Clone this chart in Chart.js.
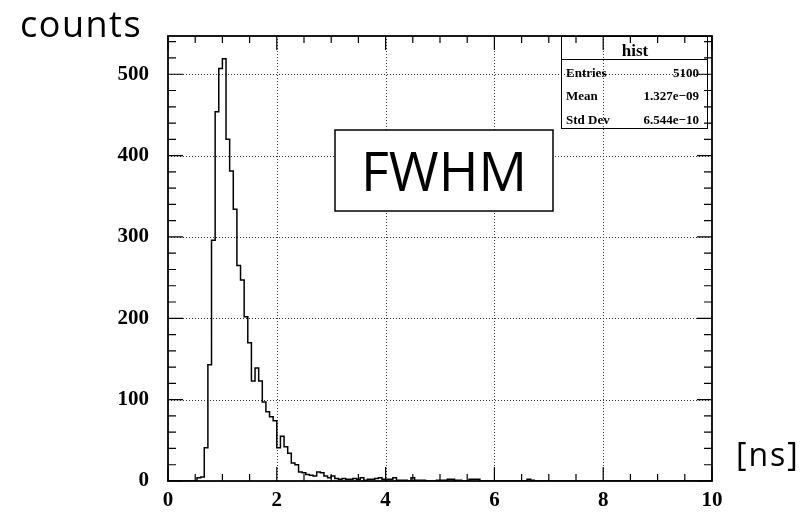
<!DOCTYPE html>
<html>
<head>
<meta charset="utf-8">
<script src="https://cdn.jsdelivr.net/npm/chart.js@4.4.1/dist/chart.umd.min.js"></script>
<style>
  html, body { margin: 0; padding: 0; background: #fff; }
</style>
</head>
<body>
<canvas id="hist" width="807" height="512"></canvas>
<script>
// histogram range (ns) and bin contents, 150 bins
var binLow = 0;
var binHigh = 10;
var counts = [
  0, 0, 0, 0, 0, 0, 0, 0, 4, 5,
  41, 143, 296, 454, 507, 519, 420, 381, 334, 265,
  247, 202, 170, 123, 139, 123, 97, 85, 79, 74,
  41, 55, 42, 34, 22, 20, 11, 10, 8, 7,
  6, 11, 10, 6, 4, 6, 3, 2, 3, 2,
  2, 3, 2, 4, 1, 2, 2, 3, 4, 2,
  2, 2, 4, 1, 1, 1, 0, 4, 1, 1,
  1, 0, 0, 0, 1, 1, 1, 2, 2, 1,
  1, 0, 0, 2, 2, 2, 0, 0, 0, 0,
  0, 0, 0, 0, 0, 0, 0, 0, 0, 2,
  1, 0, 0, 0, 0, 0, 0, 0, 0, 0,
  0, 0, 0, 0, 0, 0, 0, 0, 0, 0,
  0, 0, 0, 0, 0, 0, 0, 0, 0, 0,
  0, 0, 0, 0, 0, 0, 0, 0, 0, 0,
  0, 0, 0, 0, 0, 0, 0, 0, 0, 0
];
var xTicks = [0, 2, 4, 6, 8, 10];
var yTicks = [0, 100, 200, 300, 400, 500];
var yMax = 547;

var statTitle = 'hist';
var statNames = ['Entries', 'Mean', 'Std Dev'];
var statValues = ['5100', '1.327e\u221209', '6.544e\u221210'];

var binWidth = (binHigh - binLow) / counts.length;
var points = counts.map(function (c, k) { return { x: binLow + k * binWidth, y: c }; });
points.push({ x: binHigh, y: 0 });

var serifBold = '"Liberation Serif", "Times New Roman", serif';
var sans = '"Open Sans", "Noto Sans", sans-serif';

function inRange(v, s) { return v > s.min && v < s.max; }

var rootFrame = {
  id: 'rootFrame',
  beforeDatasetsDraw: function (chart) {
    var ctx = chart.ctx, a = chart.chartArea, x = chart.scales.x, y = chart.scales.y;
    ctx.save();
    ctx.strokeStyle = '#333';
    ctx.lineWidth = 1;
    ctx.setLineDash([1, 2]);
    ctx.beginPath();
    xTicks.forEach(function (v) {
      if (!inRange(v, x)) return;
      var px = Math.round(x.getPixelForValue(v)) + 0.5;
      ctx.moveTo(px, a.top); ctx.lineTo(px, a.bottom);
    });
    yTicks.forEach(function (v) {
      if (!inRange(v, y)) return;
      var py = Math.round(y.getPixelForValue(v)) + 0.5;
      ctx.moveTo(a.left, py); ctx.lineTo(a.right, py);
    });
    ctx.stroke();
    ctx.restore();
  },
  afterDatasetsDraw: function (chart) {
    var ctx = chart.ctx, a = chart.chartArea, x = chart.scales.x, y = chart.scales.y;
    ctx.save();
    ctx.strokeStyle = '#000';
    ctx.lineWidth = 1.2;
    ctx.beginPath();
    // x ticks (bottom and top), minor every 0.5, major every 2
    for (var v = binLow; v <= binHigh + 1e-9; v += 0.5) {
      var px = x.getPixelForValue(v);
      var len = (Math.abs(v / 2 - Math.round(v / 2)) < 1e-6) ? 14 : 7;
      ctx.moveTo(px, a.bottom); ctx.lineTo(px, a.bottom - len);
      ctx.moveTo(px, a.top); ctx.lineTo(px, a.top + len);
    }
    // y ticks (left and right), minor every 20, major every 100
    for (var w = 0; w <= yMax; w += 20) {
      var py = y.getPixelForValue(w);
      var l2 = (w % 100 === 0) ? 15 : 8;
      ctx.moveTo(a.left, py); ctx.lineTo(a.left + l2, py);
      ctx.moveTo(a.right, py); ctx.lineTo(a.right - l2, py);
    }
    ctx.stroke();
    ctx.lineWidth = 1.8;
    ctx.strokeRect(a.left, a.top, a.right - a.left, a.bottom - a.top);
    ctx.restore();
  },
  afterDraw: function (chart) {
    var ctx = chart.ctx, a = chart.chartArea;
    ctx.save();

    // stats box
    var bx = 561, by = a.top, bw = 146, bh = 92, th = 23;
    ctx.strokeStyle = '#000';
    ctx.lineWidth = 1;
    ctx.strokeRect(bx + 0.5, by + 0.5, bw, bh);
    ctx.beginPath();
    ctx.moveTo(bx, by + th + 0.5); ctx.lineTo(bx + bw, by + th + 0.5);
    ctx.stroke();
    ctx.fillStyle = '#000';
    ctx.textBaseline = 'alphabetic';
    ctx.textAlign = 'center';
    ctx.font = 'bold 17px ' + serifBold;
    ctx.fillText(statTitle, bx + bw / 2 + 1, by + 20);
    ctx.font = 'bold 13px ' + serifBold;
    for (var i = 0; i < statNames.length; i++) {
      var base = by + 41 + i * 23.3;
      ctx.textAlign = 'left';
      ctx.fillText(statNames[i], bx + 5, base);
      ctx.textAlign = 'right';
      ctx.fillText(statValues[i], bx + bw - 8, base);
    }

    // FWHM label box
    ctx.fillStyle = '#fff';
    ctx.fillRect(335, 130, 218, 81);
    ctx.lineWidth = 1.5;
    ctx.strokeRect(335, 130, 218, 81);
    ctx.fillStyle = '#000';
    ctx.textAlign = 'center';
    ctx.font = '54px ' + sans;
    ctx.fillText('FWHM', 444, 191);

    // axis titles
    ctx.textAlign = 'left';
    ctx.font = '36px ' + sans;
    ctx.letterSpacing = '1.5px';
    ctx.fillText('counts', 20, 37);
    ctx.font = '32px ' + sans;
    ctx.letterSpacing = '2px';
    ctx.fillText('[ns]', 736, 466);
    ctx.restore();
  }
};

var tickFont = { family: serifBold, weight: 'bold', size: 21 };

var ctx = document.getElementById('hist');
var chart = new Chart(ctx, {
  type: 'line',
  data: {
    datasets: [{
      label: 'hist',
      data: points,
      stepped: 'before',
      borderColor: '#000',
      borderWidth: 1.5,
      pointRadius: 0,
      fill: false,
      tension: 0
    }]
  },
  options: {
    responsive: false,
    animation: false,
    layout: { padding: { top: 36, right: 95, left: 0, bottom: 0 } },
    plugins: {
      legend: { display: false },
      tooltip: { enabled: false },
      title: { display: false }
    },
    scales: {
      x: {
        type: 'linear',
        min: binLow,
        max: binHigh,
        afterBuildTicks: function (s) { s.ticks = xTicks.map(function (v) { return { value: v }; }); },
        afterFit: function (s) { s.height = 31; },
        grid: { display: false },
        border: { display: false },
        ticks: { font: tickFont, color: '#000', padding: -1, maxRotation: 0, autoSkip: false }
      },
      y: {
        type: 'linear',
        min: 0,
        max: yMax,
        afterBuildTicks: function (s) { s.ticks = yTicks.map(function (v) { return { value: v }; }); },
        afterFit: function (s) { s.width = 168; },
        grid: { display: false },
        border: { display: false },
        ticks: { font: tickFont, color: '#000', padding: 11, autoSkip: false }
      }
    }
  },
  plugins: [rootFrame]
});
</script>
</body>
</html>
